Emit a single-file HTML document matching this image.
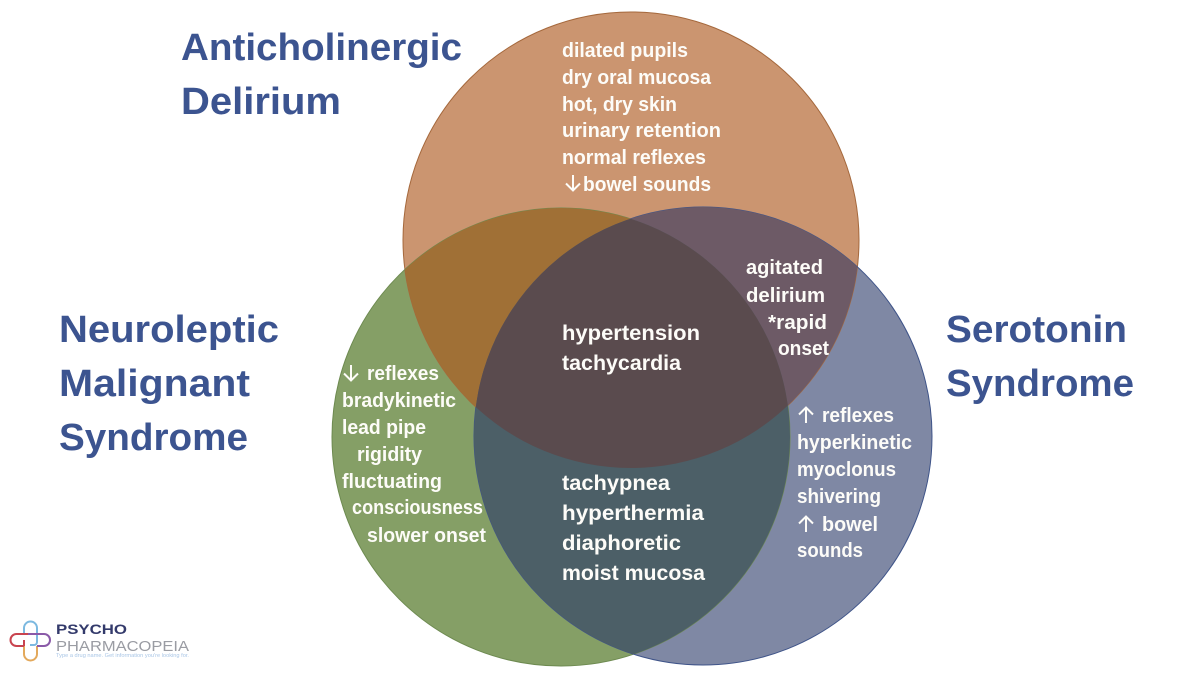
<!DOCTYPE html>
<html>
<head>
<meta charset="utf-8">
<style>
html,body{margin:0;padding:0;background:#fff;width:1200px;height:675px;overflow:hidden}
svg{display:block}
text{font-family:"Liberation Sans",sans-serif;font-weight:bold}
.w{fill:#fdfcf8;font-size:20px}
.c{fill:#fdfcf8;font-size:21.5px}
.t{fill:#3c5490;font-size:38px}
</style>
</head>
<body>
<svg width="1200" height="675" viewBox="0 0 1200 675" xmlns="http://www.w3.org/2000/svg">
<defs>
<clipPath id="cT"><circle cx="631" cy="240" r="228"/></clipPath>
<clipPath id="cL"><circle cx="561" cy="437" r="229"/></clipPath>
<clipPath id="cR"><circle cx="703" cy="436" r="229"/></clipPath>
</defs>
<rect width="1200" height="675" fill="#fff"/>
<circle cx="631" cy="240" r="228" fill="#cb9570"/>
<circle cx="561" cy="437" r="229" fill="#859f66"/>
<circle cx="703" cy="436" r="229" fill="#7f88a4"/>
<circle cx="631" cy="240" r="228" fill="none" stroke="#a5683c" stroke-width="1"/>
<circle cx="561" cy="437" r="229" fill="none" stroke="#6d8a50" stroke-width="1"/>
<circle cx="703" cy="436" r="229" fill="none" stroke="#3f5489" stroke-width="1"/>
<g clip-path="url(#cT)">
<circle cx="561" cy="437" r="229" fill="#a07036"/>
<circle cx="703" cy="436" r="229" fill="#6d5a66"/>
</g>
<g clip-path="url(#cL)">
<circle cx="703" cy="436" r="229" fill="#4c5f67"/>
<g clip-path="url(#cT)"><circle cx="703" cy="436" r="229" fill="#5a4b4e"/></g>
</g>

<text class="t" x="181" y="60" textLength="281" lengthAdjust="spacingAndGlyphs">Anticholinergic</text>
<text class="t" x="181" y="114" textLength="160" lengthAdjust="spacingAndGlyphs">Delirium</text>
<text class="t" x="59" y="342" textLength="220" lengthAdjust="spacingAndGlyphs">Neuroleptic</text>
<text class="t" x="59" y="396" textLength="191" lengthAdjust="spacingAndGlyphs">Malignant</text>
<text class="t" x="59" y="450" textLength="189" lengthAdjust="spacingAndGlyphs">Syndrome</text>
<text class="t" x="946" y="342" textLength="181" lengthAdjust="spacingAndGlyphs">Serotonin</text>
<text class="t" x="946" y="396" textLength="188" lengthAdjust="spacingAndGlyphs">Syndrome</text>

<text class="w" x="562" y="57" textLength="126" lengthAdjust="spacingAndGlyphs">dilated pupils</text>
<text class="w" x="562" y="84" textLength="149" lengthAdjust="spacingAndGlyphs">dry oral mucosa</text>
<text class="w" x="562" y="111" textLength="115" lengthAdjust="spacingAndGlyphs">hot, dry skin</text>
<text class="w" x="562" y="137" textLength="159" lengthAdjust="spacingAndGlyphs">urinary retention</text>
<text class="w" x="562" y="164" textLength="144" lengthAdjust="spacingAndGlyphs">normal reflexes</text>
<path d="M573 175V190M566 183.500L573 190.500L580 183.500" fill="none" stroke="#fdfcf8" stroke-width="2"/>
<text class="w" x="583" y="191" textLength="128" lengthAdjust="spacingAndGlyphs">bowel sounds</text>

<text class="w" x="746" y="274" textLength="77" lengthAdjust="spacingAndGlyphs">agitated</text>
<text class="w" x="746" y="302" textLength="79" lengthAdjust="spacingAndGlyphs">delirium</text>
<text class="w" x="768" y="329" textLength="59" lengthAdjust="spacingAndGlyphs">*rapid</text>
<text class="w" x="778" y="355" textLength="51" lengthAdjust="spacingAndGlyphs">onset</text>

<text class="c" x="562" y="340" textLength="138" lengthAdjust="spacingAndGlyphs">hypertension</text>
<text class="c" x="562" y="370" textLength="119" lengthAdjust="spacingAndGlyphs">tachycardia</text>

<path d="M351 365V380M344 373.500L351 380.500L358 373.500" fill="none" stroke="#fdfcf8" stroke-width="2"/>
<text class="w" x="367" y="380" textLength="72" lengthAdjust="spacingAndGlyphs">reflexes</text>
<text class="w" x="342" y="407" textLength="114" lengthAdjust="spacingAndGlyphs">bradykinetic</text>
<text class="w" x="342" y="434" textLength="84" lengthAdjust="spacingAndGlyphs">lead pipe</text>
<text class="w" x="357" y="461" textLength="65" lengthAdjust="spacingAndGlyphs">rigidity</text>
<text class="w" x="342" y="488" textLength="100" lengthAdjust="spacingAndGlyphs">fluctuating</text>
<text class="w" x="352" y="514" textLength="131" lengthAdjust="spacingAndGlyphs">consciousness</text>
<text class="w" x="367" y="542" textLength="119" lengthAdjust="spacingAndGlyphs">slower onset</text>

<text class="c" x="562" y="490" textLength="108" lengthAdjust="spacingAndGlyphs">tachypnea</text>
<text class="c" x="562" y="520" textLength="142" lengthAdjust="spacingAndGlyphs">hyperthermia</text>
<text class="c" x="562" y="550" textLength="119" lengthAdjust="spacingAndGlyphs">diaphoretic</text>
<text class="c" x="562" y="580" textLength="143" lengthAdjust="spacingAndGlyphs">moist mucosa</text>

<path d="M806 423V408M799 414.500L806 407.500L813 414.500" fill="none" stroke="#fdfcf8" stroke-width="2"/>
<text class="w" x="822" y="422" textLength="72" lengthAdjust="spacingAndGlyphs">reflexes</text>
<text class="w" x="797" y="449" textLength="115" lengthAdjust="spacingAndGlyphs">hyperkinetic</text>
<text class="w" x="797" y="476" textLength="99" lengthAdjust="spacingAndGlyphs">myoclonus</text>
<text class="w" x="797" y="503" textLength="84" lengthAdjust="spacingAndGlyphs">shivering</text>
<path d="M806 532V517M799 523.500L806 516.500L813 523.500" fill="none" stroke="#fdfcf8" stroke-width="2"/>
<text class="w" x="822" y="531" textLength="56" lengthAdjust="spacingAndGlyphs">bowel</text>
<text class="w" x="797" y="557" textLength="66" lengthAdjust="spacingAndGlyphs">sounds</text>

<g fill="none" stroke-width="2">
<path d="M24 634V628a6.500 6.500 0 0 1 13 0V642a3 3 0 0 1-3 3H30" stroke="#7cb9e0"/>
<path d="M24 646V654a6.500 6.500 0 0 0 13 0V646" stroke="#e3a95c"/>
<path d="M31 634H16.500a6 6 0 0 0 0 12H24M24 640V646" stroke="#c9444f"/>
<path d="M28 634H44a6 6 0 0 1 0 12H37" stroke="#8a5aa8"/>
</g>
<text x="56" y="634" font-size="14" fill="#333a6b" textLength="71" lengthAdjust="spacingAndGlyphs">PSYCHO</text>
<text x="56" y="651" font-size="15" fill="#9a9ca3" style="font-weight:normal" textLength="133" lengthAdjust="spacingAndGlyphs">PHARMACOPEIA</text>
<text x="56" y="657" font-size="5" fill="#a9c6e6" style="font-weight:normal" textLength="133" lengthAdjust="spacingAndGlyphs">Type a drug name. Get information you're looking for.</text>
</svg>
</body>
</html>
